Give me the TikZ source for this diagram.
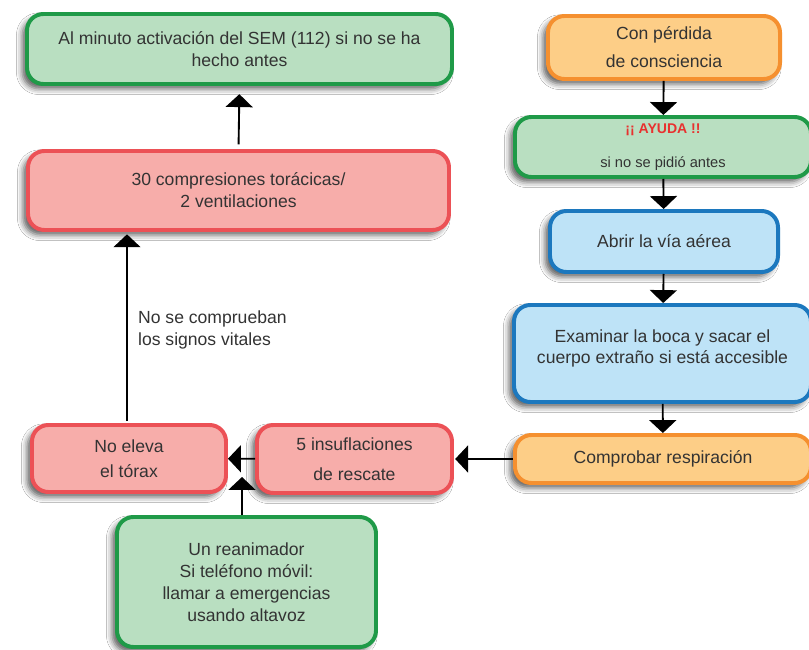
\documentclass[tikz,border=0pt]{standalone}
\usepackage{fontspec}
\setmainfont{Liberation Sans}
\usetikzlibrary{arrows.meta,shadows.blur}
\definecolor{vfill}{HTML}{B9DFC1}
\definecolor{vborde}{HTML}{1F9A48}
\definecolor{rfill}{HTML}{F7ADAA}
\definecolor{rborde}{HTML}{EC5156}
\definecolor{nfill}{HTML}{FDCE87}
\definecolor{nborde}{HTML}{F5902F}
\definecolor{afill}{HTML}{BEE3F7}
\definecolor{aborde}{HTML}{1C78BE}
\definecolor{textgris}{HTML}{333333}
\definecolor{ayudarojo}{HTML}{E8312F}

\begin{document}
\begin{tikzpicture}[x=0.03cm, y=-0.03cm,
	caja/.style={draw, line width=3.4pt, rounded corners=14pt, align=center,
		text=textgris, inner sep=0pt, font=\fontsize{15}{18.7}\selectfont,
		blur shadow={shadow xshift=-4pt, shadow yshift=-4pt, shadow blur radius=5pt, shadow opacity=65}},
	verde/.style={caja, fill=vfill, draw=vborde},
	rojo/.style={caja, fill=rfill, draw=rborde},
	naranja/.style={caja, fill=nfill, draw=nborde},
	azul/.style={caja, fill=afill, draw=aborde},
	flecha/.style={line width=1.6pt, -{Triangle[length=11pt, width=23pt]}}]
	\useasboundingbox[fill=white] (0, 0) rectangle (809, 650);
	%% columna izquierda
	\node[verde, minimum width=425*0.03cm, minimum height=70*0.03cm] (sem) at (239.5, 49)
		{Al minuto activación del SEM (112) si no se ha\\hecho antes};
	\node[rojo, minimum width=421*0.03cm, minimum height=79*0.03cm] (compresiones) at (238.5, 190.5)
		{30 compresiones torácicas/\\2 ventilaciones};
	%% columna derecha
	\node[naranja, minimum width=232*0.03cm, minimum height=63*0.03cm] (perdida) at (664, 47.5)
		{Con pérdida\\[5pt]de consciencia};
	\node[verde, minimum width=296*0.03cm, minimum height=60*0.03cm] (ayuda) at (663, 147)
		{{\fontsize{12}{13}\selectfont\bfseries\color{ayudarojo}¡¡ AYUDA !!}\\[10pt]
		{\fontsize{12.5}{13}\selectfont si no se pidió antes}};
	\node[azul, minimum width=228*0.03cm, minimum height=61*0.03cm] (abrir) at (664, 241.5)
		{Abrir la vía aérea};
	\node[azul, minimum width=297*0.03cm, minimum height=97*0.03cm] (examinar) at (662.5, 353.5)
		{Examinar la boca y sacar el\\cuerpo extraño si está accesible\\[-7pt]\mbox{}};
	\node[naranja, minimum width=296*0.03cm, minimum height=48*0.03cm] (comprobar) at (663, 459)
		{Comprobar respiración};
	%% fila de abajo
	\node[rojo, minimum width=195*0.03cm, minimum height=68*0.03cm] (insuflaciones) at (354.5, 459)
		{5 insuflaciones\\[6.5pt]de rescate};
	\node[rojo, minimum width=194*0.03cm, minimum height=67*0.03cm] (noeleva) at (129, 458.5)
		{No eleva\\[2.3pt]el tórax};
	\node[verde, minimum width=259*0.03cm, minimum height=130*0.03cm] (reanimador) at (246.5, 582)
		{\fontsize{15}{17.6}\selectfont Un reanimador\\Si teléfono móvil:\\llamar a emergencias\\usando altavoz};
	\node[text=textgris, align=left, anchor=west, font=\fontsize{15}{18.7}\selectfont] (signos) at (134, 330)
		{No se comprueban\\los signos vitales};
	\coordinate (union) at (242, 477);
	%% flechas
	\draw[flecha, shorten <=4pt, shorten >=7pt] (compresiones.north) -- (sem.south);
	\draw[flecha, shorten <=2pt, shorten >=2pt] (noeleva.north -| 127, 0) -- (compresiones.south -| 127, 0);
	\draw[flecha] (perdida) -- (ayuda);
	\draw[flecha] (ayuda) -- (abrir);
	\draw[flecha] (abrir) -- (examinar);
	\draw[flecha] (examinar) -- (comprobar);
	\draw[flecha, shorten >=1pt] (comprobar) -- (insuflaciones);
	\draw[flecha] (insuflaciones) -- (noeleva);
	\draw[flecha] (reanimador.north -| union) -- (union);
\end{tikzpicture}
\end{document}
